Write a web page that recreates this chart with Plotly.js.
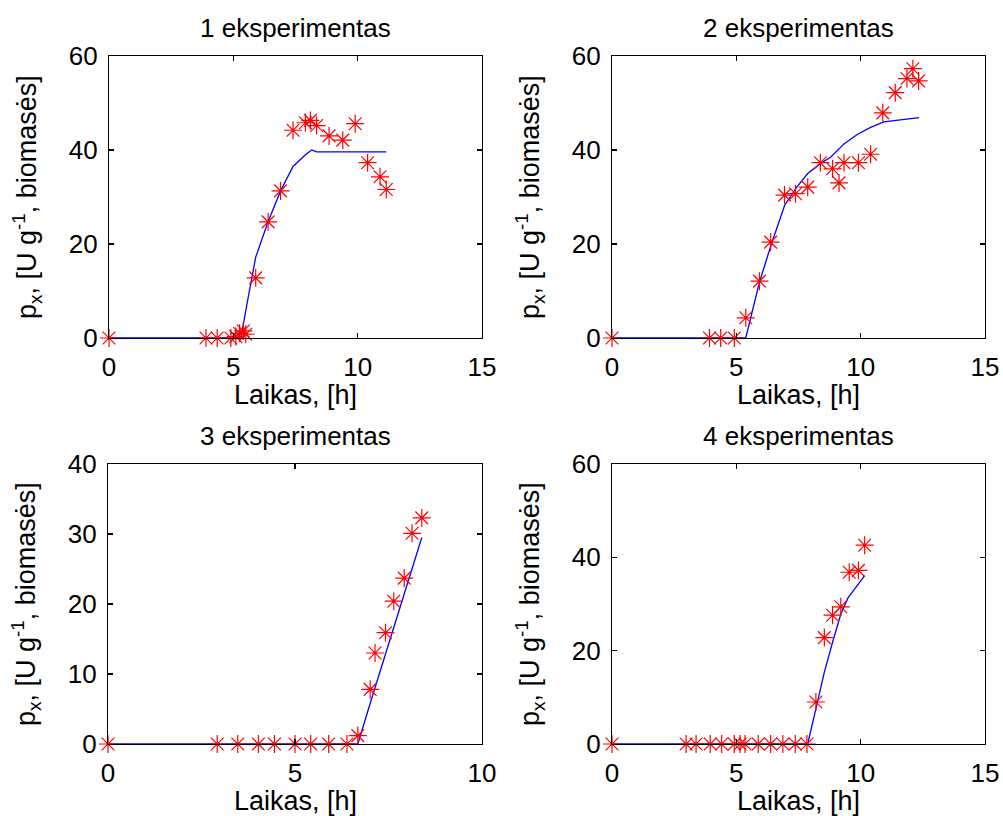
<!DOCTYPE html>
<html><head><meta charset="utf-8">
<script src="https://cdn.plot.ly/plotly-3.0.1.min.js"></script>
<style>body{margin:0;background:#fff}#plot{width:1003px;height:816px}</style>
</head><body><div id="plot"></div>
<script>
// Experiment 1
const exp1T = [0, 3.9, 4.35, 4.9, 5.1, 5.25, 5.4, 5.5, 5.9, 6.4, 6.9, 7.4, 7.9, 8.1, 8.35, 8.85, 9.4, 9.9, 10.4, 10.9, 11.15];
const exp1Y = [0, 0, 0, 0, 0.3, 1.0, 1.5, 0.8, 12.8, 24.7, 31.3, 44.2, 45.8, 46.3, 45.2, 43.0, 42.1, 45.6, 37.3, 34.3, 31.6];
const mod1T = [0, 5.3, 5.6, 5.9, 6.4, 6.9, 7.4, 7.9, 8.15, 8.35, 11.15];
const mod1Y = [0, 0, 8.7, 17.2, 24.8, 31.3, 36.5, 39.0, 40.0, 39.6, 39.6];
// Experiment 2
const exp2T = [0, 3.92, 4.37, 4.92, 5.38, 5.93, 6.38, 6.94, 7.38, 7.87, 8.38, 8.87, 9.13, 9.33, 9.91, 10.4, 10.89, 11.39, 11.86, 12.1, 12.33];
const exp2Y = [0, 0, 0, 0, 4.3, 12.1, 20.4, 30.4, 30.7, 32.1, 37.3, 36.0, 33.0, 37.3, 37.3, 39.1, 47.9, 52.2, 55.2, 57.3, 54.7];
const mod2T = [0, 5.38, 5.93, 6.41, 6.94, 7.43, 7.87, 8.38, 8.8, 9.33, 9.86, 10.4, 10.93, 11.4, 12.1, 12.35];
const mod2Y = [0, 0, 11.9, 20.0, 28.2, 32.1, 35.0, 37.1, 38.5, 41.3, 43.3, 44.8, 46.0, 46.3, 46.9, 46.9];
// Experiment 3
const exp3T = [0, 2.92, 3.47, 4.02, 4.45, 5.0, 5.42, 5.9, 6.39, 6.68, 7.01, 7.14, 7.42, 7.64, 7.92, 8.13, 8.39];
const exp3Y = [0, 0, 0, 0, 0, 0, 0, 0, 0, 1.2, 7.8, 13.0, 15.9, 20.4, 23.7, 30.1, 32.3];
const mod3T = [0, 6.68, 7.05, 7.4, 7.67, 7.93, 8.15, 8.39];
const mod3Y = [0, 0, 6.5, 12.5, 17.4, 21.9, 25.7, 29.5];
// Experiment 4
const exp4T = [0, 2.98, 3.38, 3.95, 4.41, 4.92, 5.15, 5.35, 5.88, 6.38, 6.87, 7.37, 7.84, 8.2, 8.54, 8.87, 9.2, 9.54, 9.91, 10.16];
const exp4Y = [0, 0, 0, 0, 0, 0, 0, 0, 0, 0, 0, 0, 0, 9.0, 22.8, 27.6, 29.4, 36.8, 37.2, 42.6];
const mod4T = [0, 7.87, 8.2, 8.54, 8.87, 9.2, 9.49, 9.8, 10.16];
const mod4Y = [0, 0, 7.6, 15.4, 21.8, 27.8, 31.3, 33.4, 36.1];

const titles = ['1 eksperimentas', '2 eksperimentas', '3 eksperimentas', '4 eksperimentas'];
const xLabel = 'Laikas, [h]';
const yLabel = 'p<sub>x</sub>, [U g<sup>-1</sup>, biomasės]';
const xRanges = [[0, 15], [0, 15], [0, 10], [0, 15]];
const yRanges = [[0, 60], [0, 60], [0, 40], [0, 60]];
const xTicks = [[0, 5, 10, 15], [0, 5, 10, 15], [0, 5, 10], [0, 5, 10, 15]];
const yTicks = [[0, 20, 40, 60], [0, 20, 40, 60], [0, 10, 20, 30, 40], [0, 20, 40, 60]];

const expT = [exp1T, exp2T, exp3T, exp4T];
const expY = [exp1Y, exp2Y, exp3Y, exp4Y];
const modT = [mod1T, mod2T, mod3T, mod4T];
const modY = [mod1Y, mod2Y, mod3Y, mod4Y];

const W = 1003, H = 816;
const boxes = [ // pixel boxes [left, right, top, bottom]
  [109, 482, 56, 338],
  [612, 985, 56, 338],
  [108, 482, 464, 744],
  [612, 985, 464, 744]
];
const FONT = 'Liberation Sans, Arial, sans-serif';
const TICKFS = 26;
const LABFS = 27;
const TITFS = 26;

const data = [];
const layout = {
  width: W, height: H,
  margin: {l: 0, r: 0, t: 0, b: 0},
  paper_bgcolor: '#fff', plot_bgcolor: '#fff',
  showlegend: false,
  font: {family: FONT, size: TICKFS, color: '#000'},
  annotations: []
};

for (let i = 0; i < 4; i++) {
  const n = i === 0 ? '' : String(i + 1);
  const xa = 'x' + n, ya = 'y' + n;
  data.push({x: modT[i], y: modY[i], xaxis: xa, yaxis: ya, type: 'scatter', mode: 'lines',
    line: {color: '#0000ff', width: 1.3}, hoverinfo: 'skip'});
  data.push({x: expT[i], y: expY[i], xaxis: xa, yaxis: ya, type: 'scatter', mode: 'markers',
    marker: {symbol: 'asterisk-open', size: 15, color: '#ff0000', line: {color: '#ff0000', width: 1.2}},
    cliponaxis: false});
  const b = boxes[i];
  const common = {showgrid: false, zeroline: false, showline: true, linecolor: '#000', linewidth: 1.2,
    mirror: 'ticks', ticks: 'inside', ticklen: 5, tickcolor: '#000', tickwidth: 1.2,
    tickfont: {family: FONT, size: TICKFS, color: '#000'}, fixedrange: true};
  layout['xaxis' + n] = Object.assign({}, common, {
    domain: [b[0] / W, b[1] / W], anchor: ya, range: xRanges[i],
    tickmode: 'array', tickvals: xTicks[i], ticktext: xTicks[i].map(String), ticklabelstandoff: 6
  });
  layout['yaxis' + n] = Object.assign({}, common, {
    domain: [1 - b[3] / H, 1 - b[2] / H], anchor: xa, range: yRanges[i],
    tickmode: 'array', tickvals: yTicks[i], ticktext: yTicks[i].map(String), ticklabelstandoff: 5
  });
  const cx = (b[0] + b[1]) / 2 / W;
  layout.annotations.push({text: titles[i], xref: 'paper', yref: 'paper', x: cx,
    y: 1 - (b[2] - 28) / H, xanchor: 'center', yanchor: 'middle', showarrow: false,
    font: {family: FONT, size: TITFS, color: '#000'}});
  layout.annotations.push({text: xLabel, xref: 'paper', yref: 'paper', x: cx,
    y: 1 - (b[3] + 57) / H, xanchor: 'center', yanchor: 'middle', showarrow: false,
    font: {family: FONT, size: LABFS, color: '#000'}});
  layout.annotations.push({text: yLabel, xref: 'paper', yref: 'paper', x: (b[0] - 82) / W,
    y: 1 - (b[2] + b[3]) / 2 / H, xanchor: 'center', yanchor: 'middle', textangle: -90, showarrow: false,
    font: {family: FONT, size: LABFS, color: '#000'}});
}

Plotly.newPlot('plot', data, layout, {displayModeBar: false, staticPlot: true});
</script>
</body></html>
